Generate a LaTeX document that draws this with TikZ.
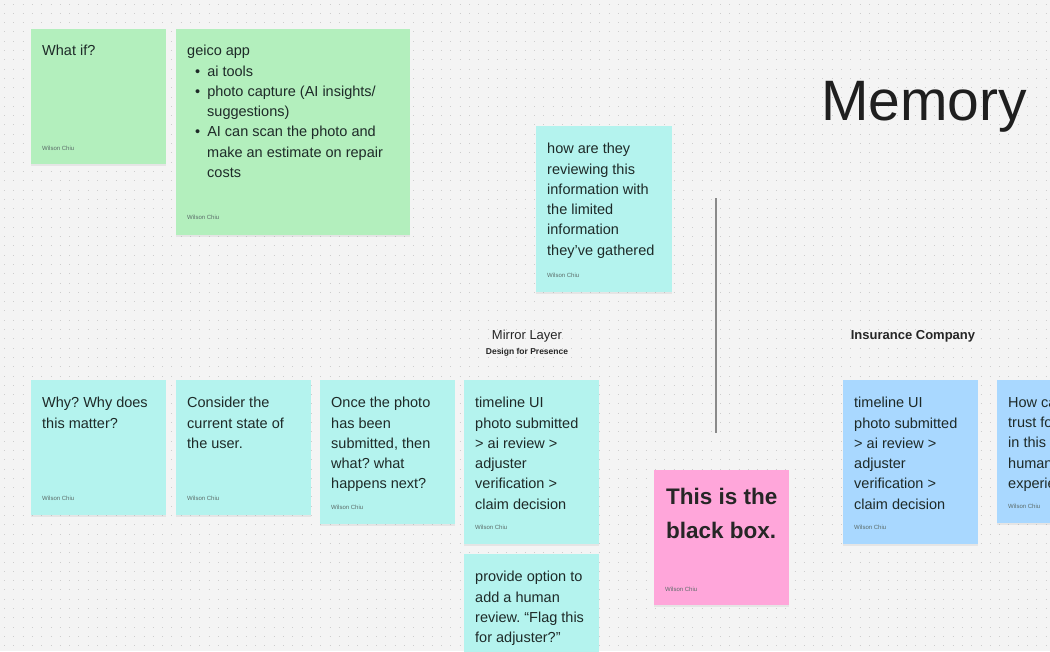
\documentclass[tikz,border=0pt]{standalone}
\usepackage{fontspec}
\setmainfont{Liberation Sans}
\usetikzlibrary{shadows}
\frenchspacing
\definecolor{board}{HTML}{F4F4F4}
\definecolor{dotgray}{HTML}{CDCDCD}
\definecolor{ink}{HTML}{1E2A28}
\definecolor{sigink}{HTML}{5A6B68}
\definecolor{stickygreen}{HTML}{B3EFBD}
\definecolor{stickycyan}{HTML}{B4F3EE}
\definecolor{stickypink}{HTML}{FFA6DA}
\definecolor{stickyblue}{HTML}{A9D8FF}
\definecolor{rule}{HTML}{8A8A8A}

\begin{document}
\begin{tikzpicture}[x=1pt,y=-1pt,
  sticky/.style={anchor=north west, inner sep=0pt, outer sep=0pt, minimum width=135, minimum height=135,
    drop shadow={shadow xshift=0pt, shadow yshift=-2pt, opacity=0.12}},
  note/.style={anchor=north west, inner sep=0pt, align=left, text=ink, font=\fontsize{14.5}{20.3}\selectfont},
  sig/.style={anchor=west, inner sep=0pt, text=sigink, font=\fontsize{6}{7}\selectfont},
  heading/.style={inner sep=0pt, text=black!85, font=\fontsize{13}{15}\selectfont},
  divider/.style={rule, line width=2.5pt}]
  % Tablero
  \fill[board] (0,0) rectangle (1050,651);
  \clip (0,0) rectangle (1050,651);
  \foreach \i in {0,...,70}
    \draw[dotgray, line width=1pt, dash pattern=on 1pt off 8.3pt] (4,{4+\i*9.3}) -- (1050,{4+\i*9.3});

  % Titulo
  \node[anchor=base west, inner sep=0pt, text=black!88, font=\fontsize{57}{60}\selectfont] (memory) at (821,120) {Memory};

  % Notas verdes
  \node[sticky, fill=stickygreen] (whatif) at (31,29) {};
  \node[note] (whatif-txt) at ([shift={(11,16)}]whatif.north west) {What if?};
  \node[sig] (whatif-sig) at ([shift={(11,-16)}]whatif.south west) {Wilson Chiu};

  \node[sticky, fill=stickygreen, minimum width=234, minimum height=206] (geico) at (176,29) {};
  \node[note] (geico-txt) at ([shift={(11,16)}]geico.north west)
    {geico app\\
     \hspace*{8pt}\textbullet\hspace*{7pt}ai tools\\
     \hspace*{8pt}\textbullet\hspace*{7pt}photo capture (AI insights/\\
     \hspace*{20pt}suggestions)\\
     \hspace*{8pt}\textbullet\hspace*{7pt}AI can scan the photo and\\
     \hspace*{20pt}make an estimate on repair\\
     \hspace*{20pt}costs};
  \node[sig] (geico-sig) at ([shift={(11,-18)}]geico.south west) {Wilson Chiu};

  % Pregunta arriba
  \node[sticky, fill=stickycyan, minimum width=136, minimum height=166] (review) at (536,126) {};
  \node[note] (review-txt) at ([shift={(11,17)}]review.north west)
    {how are they\\ reviewing this\\ information with\\ the limited\\ information\\ they’ve gathered};
  \node[sig] (review-sig) at ([shift={(11,-17)}]review.south west) {Wilson Chiu};

  % Separador
  \coordinate (divtop) at (716,198);
  \coordinate (divbot) at (716,433);
  \draw[divider] (divtop) -- (divbot);

  % Encabezados
  \node[heading] (mirror) at (527,336) {Mirror Layer};
  \node[inner sep=0pt, text=black!85, font=\bfseries\fontsize{8.5}{10}\selectfont] (presence) at (527,352) {Design for Presence};
  \node[heading, font=\bfseries\fontsize{13}{15}\selectfont] (insurance) at (913,336) {Insurance Company};

  % Fila de notas
  \node[sticky, fill=stickycyan] (why) at (31,380) {};
  \node[note] (why-txt) at ([shift={(11,17)}]why.north west) {Why? Why does\\ this matter?};
  \node[sig] (why-sig) at ([shift={(11,-17)}]why.south west) {Wilson Chiu};

  \node[sticky, fill=stickycyan] (state) at (176,380) {};
  \node[note] (state-txt) at ([shift={(11,17)}]state.north west) {Consider the\\ current state of\\ the user.};
  \node[sig] (state-sig) at ([shift={(11,-17)}]state.south west) {Wilson Chiu};

  \node[sticky, fill=stickycyan, minimum height=144] (next) at (320,380) {};
  \node[note] (next-txt) at ([shift={(11,17)}]next.north west)
    {Once the photo\\ has been\\ submitted, then\\ what? what\\ happens next?};
  \node[sig] (next-sig) at ([shift={(11,-17)}]next.south west) {Wilson Chiu};

  \node[sticky, fill=stickycyan, minimum height=164] (timeline) at (464,380) {};
  \node[note] (timeline-txt) at ([shift={(11,17)}]timeline.north west)
    {timeline UI\\ photo submitted\\ > ai review >\\ adjuster\\ verification >\\ claim decision};
  \node[sig] (timeline-sig) at ([shift={(11,-17)}]timeline.south west) {Wilson Chiu};

  \node[sticky, fill=stickycyan, minimum height=135] (flag) at (464,554) {};
  \node[note] (flag-txt) at ([shift={(11,17)}]flag.north west)
    {provide option to\\ add a human\\ review. “Flag this\\ for adjuster?”};

  % Caja negra
  \node[sticky, fill=stickypink] (blackbox) at (654,470) {};
  \node[note, font=\bfseries\fontsize{22.5}{34}\selectfont, text=black!85] (blackbox-txt) at ([shift={(12,18)}]blackbox.north west)
    {This is the\\ black box.};
  \node[sig] (blackbox-sig) at ([shift={(11,-16)}]blackbox.south west) {Wilson Chiu};

  % Lado aseguradora
  \node[sticky, fill=stickyblue, minimum height=164] (company) at (843,380) {};
  \node[note] (company-txt) at ([shift={(11,17)}]company.north west)
    {timeline UI\\ photo submitted\\ > ai review >\\ adjuster\\ verification >\\ claim decision};
  \node[sig] (company-sig) at ([shift={(11,-17)}]company.south west) {Wilson Chiu};

  \node[sticky, fill=stickyblue, minimum height=143] (trust) at (997,380) {};
  \node[note] (trust-txt) at ([shift={(11,17)}]trust.north west)
    {How can\\ trust for\\ in this c\\ human\\ experience};
  \node[sig] (trust-sig) at ([shift={(11,-17)}]trust.south west) {Wilson Chiu};
\end{tikzpicture}
\end{document}
